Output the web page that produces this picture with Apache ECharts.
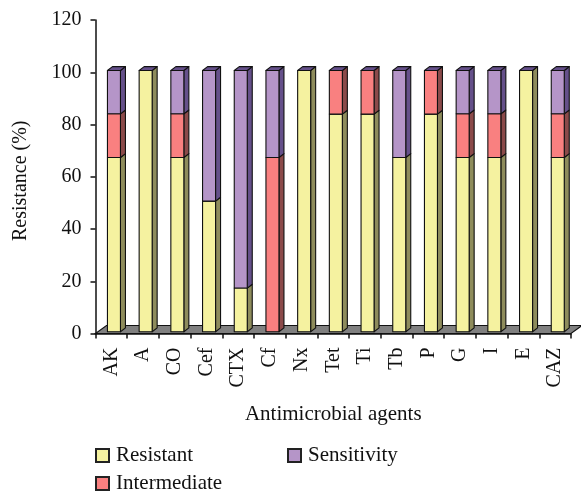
<!DOCTYPE html>
<html><head><meta charset="utf-8">
<style>html,body{margin:0;padding:0;background:#fff}#c{width:581px;height:491px}</style>
<script src="https://cdn.jsdelivr.net/npm/echarts@6/dist/echarts.min.js"></script>
</head><body><div id="c"></div>
<script>
const categories = ['AK','A','CO','Cef','CTX','Cf','Nx','Tet','Ti','Tb','P','G','I','E','CAZ'];
const resistant    = [66.7,100,66.7,50,16.7,0,100,83.3,83.3,66.7,83.3,66.7,66.7,100,66.7];
const intermediate = [16.7,0,16.7,0,0,66.7,0,16.7,16.7,0,16.7,16.7,16.7,0,16.7];
const sensitivity  = [16.6,0,16.6,50,83.3,33.3,0,0,0,33.3,0,16.6,16.6,0,16.6];
const yTicks = {min:0,max:120,interval:20};
const FONT = '"Liberation Serif"';
const chart = echarts.init(document.getElementById('c'),null,{renderer:'canvas'});

function stackData(vals, below){
  return vals.map((v,i)=>{const b=below.reduce((s,a)=>s+a[i],0);return [i,b,b+v];});
}
function barRender(front, side, topC){
  return function(params, api){
    const i=api.value(0), lo=api.value(1), hi=api.value(2);
    const c0=api.coord([i,lo]), c1=api.coord([i,hi]);
    const w=13, dx=5, dy=3.8, ox=2.6, oy=-1.8;
    const x0=c0[0]+ox-w/2, x1=x0+w, yb=c0[1]+oy, yt=c1[1]+oy;
    const st={stroke:'#111',lineWidth:1.1,lineJoin:'round'};
    const children=[];
    if(hi-lo>0){
      children.push({type:'polygon',shape:{points:[[x1,yb],[x1+dx,yb-dy],[x1+dx,yt-dy],[x1,yt]]},style:Object.assign({fill:side},st)});
      children.push({type:'rect',shape:{x:x0,y:yt,width:w,height:yb-yt},style:Object.assign({fill:front},st)});
    }
    if(topC) children.push({type:'polygon',shape:{points:[[x0,yt],[x1,yt],[x1+dx,yt-dy],[x0+dx,yt-dy]]},style:Object.assign({fill:topC},st)});
    return {type:'group',children};
  };
}
function floorRender(params, api){
  const cs=params.coordSys;
  const y=api.coord([0,api.value(1)])[1];
  const dx=11,dy=8;
  return {type:'polygon',shape:{points:[[cs.x,y],[cs.x+cs.width,y],[cs.x+cs.width+dx,y-dy],[cs.x+dx,y-dy]]},
    style:{fill:'#808080',stroke:'#111',lineWidth:1.1}};
}
const mk=(name,vals,below,f,s,t)=>({
  name,type:'custom',clip:false,z:3,
  renderItem:barRender(f,s,t),
  encode:{x:0,y:[1,2]},
  data:stackData(vals,below),
  itemStyle:{color:f,borderColor:'#222',borderWidth:1.4}
});
const legendBase={icon:'rect',itemWidth:13,itemHeight:13,itemGap:8,orient:'horizontal',
  textStyle:{fontFamily:FONT,fontSize:21,color:'#111',padding:[0,0,0,2]}};
chart.setOption({
  animation:false,
  backgroundColor:'#fff',
  grid:{left:95.5,right:10,top:20,bottom:157.5,containLabel:false,outerBoundsMode:'none'},
  legend:[
    Object.assign({},legendBase,{left:90,top:440,data:['Resistant']}),
    Object.assign({},legendBase,{left:282,top:440,data:['Sensitivity']}),
    Object.assign({},legendBase,{left:90,top:468,data:['Intermediate']})
  ],
  xAxis:{type:'category',data:categories,
    name:'Antimicrobial agents',nameLocation:'middle',nameGap:70,
    nameTextStyle:{fontFamily:FONT,fontSize:21,color:'#111'},
    axisLine:{show:true,lineStyle:{color:'#111',width:1.5}},
    axisTick:{show:true,length:5,alignWithLabel:false,lineStyle:{color:'#111',width:1.5}},
    axisLabel:{rotate:90,interval:0,margin:14,fontFamily:FONT,fontSize:20,color:'#111'}},
  yAxis:{type:'value',min:yTicks.min,max:yTicks.max,interval:yTicks.interval,
    name:'Resistance (%)',nameLocation:'middle',nameGap:65,nameRotate:90,
    nameTextStyle:{fontFamily:FONT,fontSize:20,color:'#111',padding:[0,8,0,0]},
    splitLine:{show:false},
    axisLine:{show:true,lineStyle:{color:'#111',width:1.5}},
    axisTick:{show:true,length:5,lineStyle:{color:'#111',width:1.5}},
    axisLabel:{margin:14,fontFamily:FONT,fontSize:20,color:'#111'}},
  series:[
    {type:'custom',clip:false,z:1,silent:true,renderItem:floorRender,encode:{x:0,y:1},data:[[0,0]]},
    mk('Resistant',resistant,[],'#F5F2A0','#8E8C5C',null),
    mk('Intermediate',intermediate,[resistant],'#F98080','#8B4A4A',null),
    mk('Sensitivity',sensitivity,[resistant,intermediate],'#B595C8','#65508A','#65508A')
  ]
});
</script></body></html>
